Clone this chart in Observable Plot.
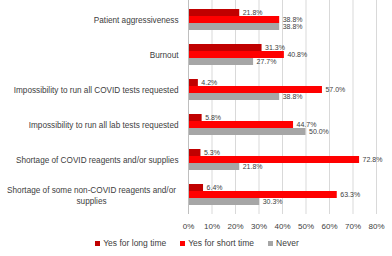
<!DOCTYPE html>
<html><head><meta charset="utf-8">
<script src="https://cdn.jsdelivr.net/npm/d3@7"></script>
<script src="https://cdn.jsdelivr.net/npm/@observablehq/plot@0.6"></script>
<style>
body{margin:0;background:#fff;font-family:"Liberation Sans",Arial,sans-serif;}
#legend{display:flex;justify-content:center;gap:14px;font-size:8.5px;color:#404040;margin-top:4px;margin-left:2px}
#legend span{display:flex;align-items:center;gap:3px}
#legend i{display:inline-block;width:5px;height:5px}
</style></head><body>
<div id="chart"></div>
<div id="legend"></div>
<script>
const categories = ["Patient aggressiveness","Burnout","Impossibility to run all COVID tests requested","Impossibility to run all lab tests requested","Shortage of COVID reagents and/or supplies","Shortage of some non-COVID reagents and/or supplies"];
const series = ["Yes for long time","Yes for short time","Never"];
const longTime = [21.8,31.3,4.2,5.8,5.3,6.4];
const shortTime = [38.8,40.8,57.0,44.7,72.8,63.3];
const never = [38.8,27.7,38.8,50.0,21.8,30.3];
const colors = ["#c00000","#ff0000","#a6a6a6"];
const ticks = [0,10,20,30,40,50,60,70,80];

const key = (c,s)=>c+"|"+s;
const data = [];
const yDomain = [];
categories.forEach((c,i)=>{
  yDomain.push(key(c,"gapA"));
  [longTime,shortTime,never].forEach((arr,j)=>{
    data.push({category:c,series:series[j],value:arr[i],k:key(c,series[j])});
    yDomain.push(key(c,series[j]));
  });
  yDomain.push(key(c,"gapB"));
});
const lastCat = categories[categories.length-1];

const chart = Plot.plot({
  width:392, height:234,
  marginLeft:188, marginRight:16, marginTop:0, marginBottom:20,
  style:{fontFamily:"Liberation Sans, Arial, sans-serif", fontSize:"8px", color:"#404040"},
  x:{domain:[0,80], ticks, tickFormat:d=>d+"%", label:null, tickSize:0, tickPadding:9},
  y:{domain:yDomain, padding:0, axis:null},
  color:{domain:series, range:colors},
  marks:[
    Plot.ruleX(ticks,{stroke:"#d9d9d9", strokeWidth:1}),
    Plot.barX(data,{y:"k", x:"value", fill:"series"}),
    Plot.text(data,{y:"k", x:"value", text:d=>d.value.toFixed(1)+"%", textAnchor:"start", dx:3, fontSize:7, fill:"#404040"}),
    Plot.text(categories.filter(c=>c!==lastCat),{y:d=>key(d,series[1]), text:d=>d, frameAnchor:"left", textAnchor:"end", dx:-10, fontSize:8.2, fill:"#404040"}),
    Plot.text([lastCat],{y:d=>key(d,series[1]), text:()=>"Shortage of some non-COVID reagents and/or\nsupplies", frameAnchor:"left", textAnchor:"middle", dx:-97, lineHeight:1.4, fontSize:8.2, fill:"#404040"}),
    Plot.ruleX([0],{stroke:"#bfbfbf"})
  ]
});
document.getElementById("chart").append(chart);
const lg = document.getElementById("legend");
series.forEach((s,i)=>{
  const sp=document.createElement("span");
  sp.innerHTML=`<i style="background:${colors[i]}"></i>${s}`;
  lg.append(sp);
});
</script>
</body></html>
